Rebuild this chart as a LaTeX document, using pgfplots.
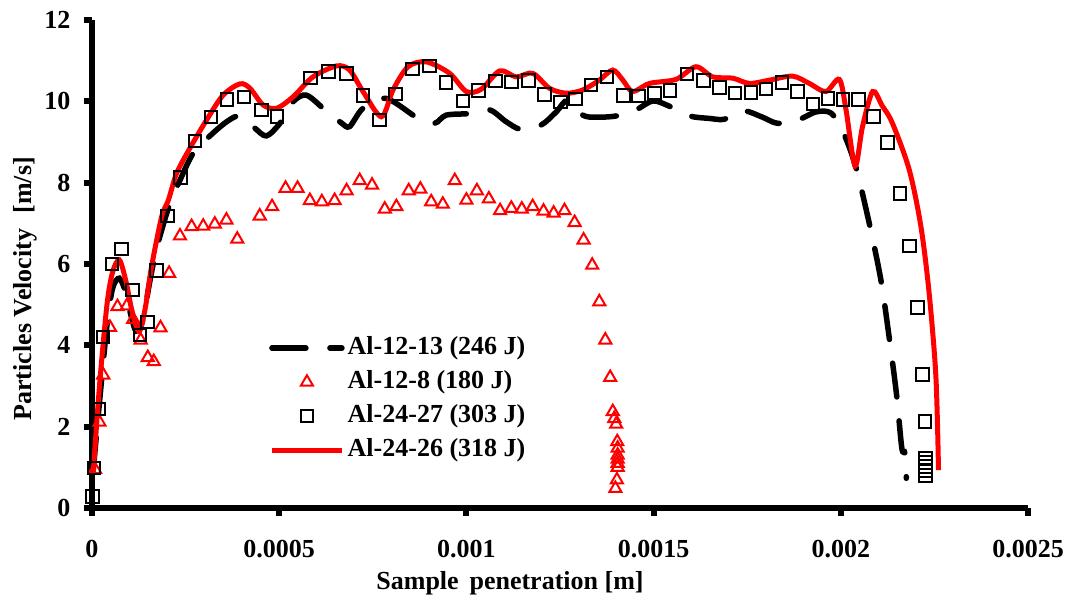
\documentclass[border=0pt]{standalone}
\usepackage{fontspec}
\setmainfont{Liberation Serif}
\usepackage{pgfplots}
\pgfplotsset{compat=1.18}
\pgfplotsset{
  lineleg/.style={legend image code/.code={\draw[##1] (0pt,0pt) -- (70pt,0pt);}},
  triLeg/.style={legend image code/.code={\draw[red, line width=2pt] plot[mark=triangle, mark size=7pt] coordinates {(35pt,0pt)};}},
  sqLeg/.style={legend image code/.code={\draw[black, line width=2pt] plot[mark=square, mark size=6.3pt] coordinates {(35pt,0pt)};}},
}
\pgfplotstableread{
x y
0.000003 0.9
0.00002 2.6
0.00004 4.5
0.000055 5.4
0.000073 5.65
0.00009 5.3
0.000105 4.7
0.000118 4.35
0.000135 4.6
0.000155 5.6
0.000173 6.4
0.000208 7.49
0.000235 8.06
0.00027 8.72
0.000315 9.15
0.00036 9.5
0.000395 9.64
0.000435 9.34
0.000466 9.15
0.000502 9.46
0.000537 9.99
0.000573 10.15
0.000622 9.79
0.000666 9.47
0.000688 9.38
0.000724 9.83
0.000786 10.07
0.000871 9.58
0.000915 9.46
0.000946 9.66
0.001009 9.70
0.001062 9.79
0.001106 9.50
0.001146 9.31
0.0012 9.42
0.00124 9.74
0.001271 10.03
0.001311 9.66
0.001347 9.61
0.0014 9.64
0.001453 9.79
0.001498 10.01
0.001542 9.88
0.001596 9.64
0.001649 9.58
0.001689 9.56
0.001738 9.77
0.001791 9.61
0.001831 9.46
0.001885 9.54
0.001934 9.74
0.001974 9.71
0.002006 9.25
0.00204 8.39
0.002076 7.0
0.002107 5.61
0.002129 4.21
0.002149 2.78
0.002163 1.47
0.002172 1.34
0.002175 0.73
}\seriesA
\pgfplotstableread{
x y
0.000008 0.95
0.00002 2.11
0.00003 3.27
0.000048 4.44
0.000068 4.95
0.000093 4.97
0.00011 4.64
0.00013 4.13
0.000149 3.70
0.000165 3.60
0.000183 4.43
0.000206 5.77
0.000235 6.69
0.000266 6.92
0.000297 6.93
0.000328 6.98
0.000359 7.08
0.000388 6.61
0.000448 7.18
0.000481 7.41
0.000517 7.86
0.000549 7.86
0.000582 7.56
0.000614 7.53
0.000648 7.56
0.00068 7.80
0.000715 8.05
0.000748 7.94
0.000782 7.35
0.000813 7.41
0.000846 7.80
0.000877 7.84
0.000906 7.53
0.000937 7.47
0.000969 8.05
0.001 7.57
0.001028 7.80
0.00106 7.60
0.00109 7.31
0.00112 7.37
0.001148 7.35
0.001177 7.41
0.001206 7.30
0.001233 7.25
0.001262 7.31
0.001289 7.02
0.001313 6.59
0.001336 5.97
0.001355 5.07
0.001371 4.13
0.001384 3.21
0.001391 2.37
0.001395 2.20
0.0014 2.06
0.001403 1.63
0.001404 1.47
0.001404 1.30
0.001404 1.20
0.001404 1.10
0.001404 1.00
0.001402 0.69
0.001398 0.48
}\seriesB
\pgfplotstableread{
x y
0.000002 0.28
0.000005 0.98
0.000017 2.43
0.000029 4.20
0.000053 6.00
0.000079 6.37
0.000108 5.36
0.000128 4.25
0.000149 4.57
0.000173 5.84
0.000201 7.18
0.000237 8.12
0.000275 9.02
0.000318 9.61
0.000361 10.05
0.000406 10.11
0.000453 9.79
0.000494 9.62
0.000584 10.57
0.000632 10.74
0.000679 10.69
0.000724 10.15
0.000768 9.54
0.00081 10.18
0.000856 10.79
0.000902 10.87
0.000946 10.47
0.000991 10.01
0.001033 10.26
0.001078 10.50
0.001121 10.48
0.001166 10.51
0.001209 10.17
0.001251 9.98
0.001291 10.06
0.001333 10.40
0.001375 10.60
0.001419 10.14
0.00146 10.13
0.001502 10.20
0.001544 10.26
0.001589 10.67
0.001633 10.51
0.001676 10.34
0.001717 10.20
0.00176 10.21
0.0018 10.30
0.001843 10.46
0.001885 10.24
0.001926 9.93
0.001966 10.07
0.002006 10.04
0.002047 10.05
0.002087 9.62
0.002125 8.99
0.002158 7.74
0.002184 6.44
0.002205 4.93
0.002218 3.29
0.002225 2.12
0.002227 1.22
0.002227 1.12
0.002227 1.02
0.002227 0.92
0.002227 0.80
}\seriesC
\pgfplotstableread{
x y
0.0000035 0.89
0.00002 3.0
0.00004 5.0
0.000055 5.8
0.000073 6.10
0.00009 5.6
0.000108 4.8
0.000126 4.34
0.000142 4.9
0.000159 5.93
0.000186 7.16
0.000204 7.57
0.000226 8.23
0.000261 8.84
0.000306 9.54
0.00035 10.15
0.000395 10.43
0.000422 10.32
0.000457 9.91
0.000493 9.83
0.000537 10.11
0.00059 10.6
0.000653 10.87
0.000688 10.77
0.000724 10.24
0.000773 9.62
0.000804 10.28
0.000844 10.85
0.000893 10.97
0.000955 10.69
0.001 10.24
0.00104 10.3
0.001089 10.75
0.001133 10.6
0.001177 10.69
0.001222 10.32
0.001267 10.2
0.001311 10.28
0.001355 10.52
0.001391 10.77
0.001418 10.52
0.001444 10.24
0.001489 10.44
0.00156 10.54
0.001613 10.85
0.001658 10.6
0.001711 10.57
0.001756 10.44
0.001809 10.52
0.001871 10.62
0.001916 10.44
0.00196 10.24
0.001996 10.54
0.002014 9.79
0.002038 8.41
0.002058 9.38
0.002085 10.24
0.00211 9.9
0.002138 9.46
0.002183 8.31
0.002214 6.92
0.002236 5.28
0.002254 3.23
0.002261 0.93
}\seriesD
\begin{document}
\begin{tikzpicture}
\path[use as bounding box] (-92pt,-96pt) rectangle (977pt,508pt);
\begin{axis}[
  scale only axis, width=936pt, height=488pt,
  at={(0pt,0pt)}, anchor=south west,
  xmin=0, xmax=0.0025, ymin=0, ymax=12,
  axis x line*=bottom, axis y line*=left,
  axis line style={-, line width=6.5pt, black},
  clip=false,
  scaled x ticks=false,
  xtick={0,0.0005,0.001,0.0015,0.002,0.0025},
  xticklabels={0,0.0005,0.001,0.0015,0.002,0.0025},
  ytick={0,2,4,6,8,10,12},
  yticklabels={0,2,4,6,8,10,12},
  tick align=outside, major tick length=8pt,
  major tick style={line width=6pt, black},
  ticklabel style={font=\bfseries\fontsize{26}{26}\selectfont},
  xticklabel style={anchor=base, yshift=-42pt},
  yticklabel style={anchor=east, xshift=-10pt},
  xlabel={Sample\, penetration [m]},
  ylabel={Particles Velocity\,\, [m/s]},
  label style={font=\bfseries\fontsize{26}{26}\selectfont},
  x label style={at={(axis description cs:0.4466,-0.1660)}, anchor=base},
  y label style={at={(axis description cs:-0.0641,0.449)}, anchor=base},
  legend style={draw=none, fill=none, inner sep=0pt,
    font=\bfseries\fontsize{26}{26}\selectfont,
    at={(axis description cs:0.1891,0.3525)}, anchor=north west,
    row sep=10pt, column sep=3pt,
    nodes={inner sep=0pt, text height=18pt, text depth=6pt}},
  legend cell align=left,
]
\addplot[black, line width=5.5pt, dash pattern=on 34pt off 24pt, line cap=round, smooth, lineleg] table {\seriesA};
\addlegendentry{Al-12-13 (246 J)}
\addplot[red, only marks, mark=triangle, mark size=7pt, mark options={line width=2pt, solid}, triLeg] table {\seriesB};
\addlegendentry{Al-12-8 (180 J)}
\addplot[black, only marks, mark=square, mark size=6.3pt, mark options={line width=2pt, solid}, sqLeg] table {\seriesC};
\addlegendentry{Al-24-27 (303 J)}
\addplot[red, line width=5pt, smooth, lineleg] table {\seriesD};
\addlegendentry{Al-24-26 (318 J)}
\end{axis}
\end{tikzpicture}
\end{document}
